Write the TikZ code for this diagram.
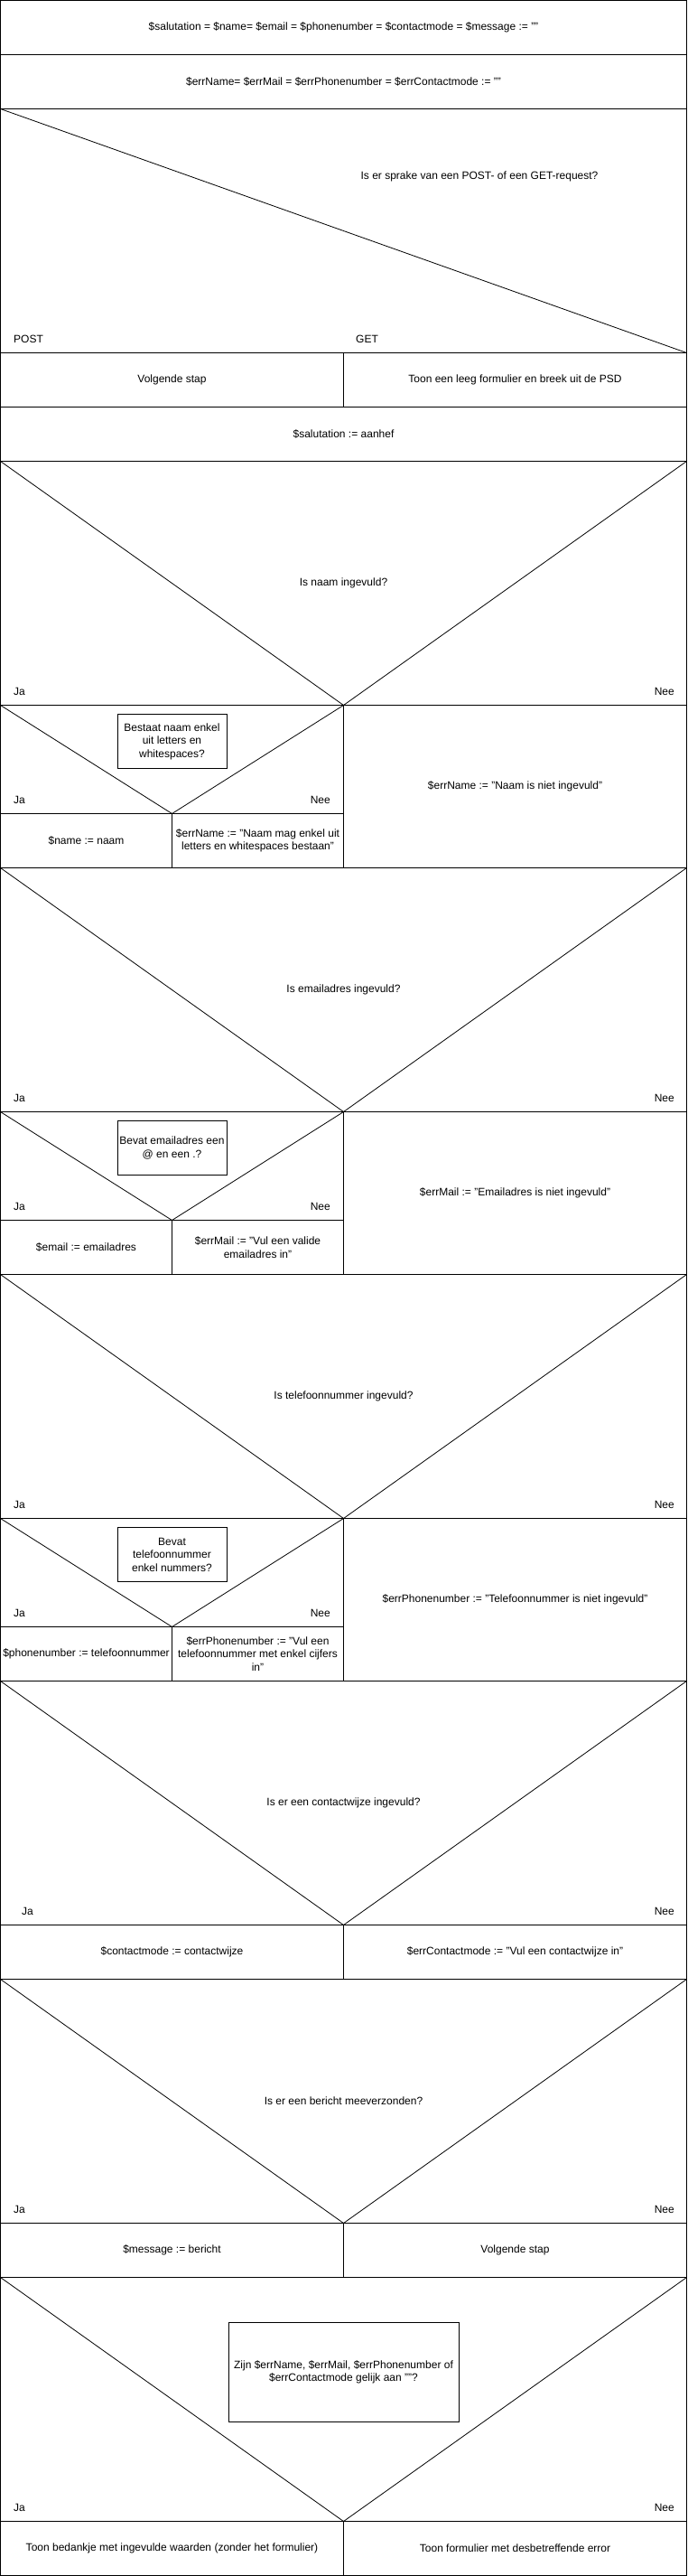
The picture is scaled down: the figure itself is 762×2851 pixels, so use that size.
\documentclass[tikz,border=0pt]{standalone}
\usepackage{fontspec}
\setmainfont{Liberation Sans}
\tikzset{
  frame/.style={draw=black, line width=1pt},
  diag/.style={draw=black, line width=0.8pt},
  txt/.style={font=\fontsize{12pt}{14.5pt}\selectfont, align=center, inner sep=0pt},
  jalbl/.style={txt, anchor=west},
  neelbl/.style={txt, anchor=east},
  qbox/.style={txt, draw=black, line width=1pt, minimum width=121pt, minimum height=60pt},
}
\begin{document}
\begin{tikzpicture}[x=1pt,y=-1pt]
\useasboundingbox (0,0) rectangle (762,2851);
% named coordinates of the frame
\coordinate (L) at (0.5,0);
\coordinate (R) at (760.5,0);
% outer frame
\draw[frame] (0.5,0.5) rectangle (760.5,2850.5);
% full-width horizontal lines
\foreach \yy in {60.5,120.5,390.5,450.5,510.5,780.5,960.5,1230.5,1410.5,1680.5,1860.5,2130.5,2190.5,2460.5,2520.5,2790.5}
  \draw[frame] (0.5,\yy) -- (760.5,\yy);
% half-width horizontal lines
\foreach \yy in {900.5,1350.5,1800.5}
  \draw[frame] (0.5,\yy) -- (380.5,\yy);
% vertical split lines (middle)
\foreach \ya/\yb in {390.5/450.5,780.5/960.5,1230.5/1410.5,1680.5/1860.5,2130.5/2190.5,2460.5/2520.5,2790.5/2850.5}
  \draw[frame] (380.5,\ya) -- (380.5,\yb);
% vertical split lines (quarter)
\foreach \ya/\yb in {900.5/960.5,1350.5/1410.5,1800.5/1860.5}
  \draw[frame] (190.5,\ya) -- (190.5,\yb);
% POST/GET diagonal
\draw[diag] (0.5,120.5) -- (760.5,390.5);
% big V decisions
\foreach \ya/\yb in {510.5/780.5,960.5/1230.5,1410.5/1680.5,1860.5/2130.5,2190.5/2460.5,2520.5/2790.5}
  \draw[diag] (0.5,\ya) -- (380.5,\yb) -- (760.5,\ya);
% nested V decisions
\foreach \ya/\yb in {780.5/900.5,1230.5/1350.5,1680.5/1800.5}
  \draw[diag] (0.5,\ya) -- (190.5,\yb) -- (380.5,\ya);

% ---- texts ----
\node[txt] (t1) at (380.5,30) {\$salutation = \$name= \$email = \$phonenumber = \$contactmode = \$message := ""};
\node[txt] (t2) at (380.5,90) {\$errName= \$errMail = \$errPhonenumber = \$errContactmode := ""};
\node[txt] (q0) at (531,195) {Is er sprake van een POST- of een GET-request?};
\node[jalbl] (post) at (15,375) {POST};
\node[jalbl] (get) at (394,375) {GET};
\node[txt] (s1) at (190.5,420) {Volgende stap};
\node[txt] (s2) at (570.5,420) {Toon een leeg formulier en breek uit de PSD};
\node[txt] (s3) at (380.5,480) {\$salutation := aanhef};

% naam
\node[txt] (q1) at (380.5,645) {Is naam ingevuld?};
\node[jalbl] (ja1) at (15,765) {Ja};
\node[neelbl] (nee1) at (747,765) {Nee};
\node[qbox] (q1b) at (190.5,820.5) {Bestaat naam enkel\\uit letters en\\whitespaces?};
\node[jalbl] (ja1b) at (15,885) {Ja};
\node[neelbl] (nee1b) at (366,885) {Nee};
\node[txt] (n1) at (95.5,930.5) {\$name := naam};
\node[txt] (n2) at (285.5,930.5) {\$errName := "Naam mag enkel uit\\letters en whitespaces bestaan"};
\node[txt] (n3) at (570.5,870.5) {\$errName := "Naam is niet ingevuld"};

% email
\node[txt] (q2) at (380.5,1095) {Is emailadres ingevuld?};
\node[jalbl] (ja2) at (15,1215) {Ja};
\node[neelbl] (nee2) at (747,1215) {Nee};
\node[qbox] (q2b) at (190.5,1270.5) {Bevat emailadres een\\@ en een .?};
\node[jalbl] (ja2b) at (15,1335) {Ja};
\node[neelbl] (nee2b) at (366,1335) {Nee};
\node[txt] (e1) at (95.5,1380.5) {\$email := emailadres};
\node[txt] (e2) at (285.5,1380.5) {\$errMail := "Vul een valide\\emailadres in"};
\node[txt] (e3) at (570.5,1320.5) {\$errMail := "Emailadres is niet ingevuld"};

% telefoon
\node[txt] (q3) at (380.5,1545) {Is telefoonnummer ingevuld?};
\node[jalbl] (ja3) at (15,1665) {Ja};
\node[neelbl] (nee3) at (747,1665) {Nee};
\node[qbox] (q3b) at (190.5,1720.5) {Bevat\\telefoonnummer\\enkel nummers?};
\node[jalbl] (ja3b) at (15,1785) {Ja};
\node[neelbl] (nee3b) at (366,1785) {Nee};
\node[txt] (p1) at (95.5,1830.5) {\$phonenumber := telefoonnummer};
\node[txt] (p2) at (285.5,1830.5) {\$errPhonenumber := "Vul een\\telefoonnummer met enkel cijfers\\in"};
\node[txt] (p3) at (570.5,1770.5) {\$errPhonenumber := "Telefoonnummer is niet ingevuld"};

% contactwijze
\node[txt] (q4) at (380.5,1995) {Is er een contactwijze ingevuld?};
\node[jalbl] (ja4) at (24,2115) {Ja};
\node[neelbl] (nee4) at (747,2115) {Nee};
\node[txt] (c1) at (190.5,2160.5) {\$contactmode := contactwijze};
\node[txt] (c2) at (570.5,2160.5) {\$errContactmode := "Vul een contactwijze in"};

% bericht
\node[txt] (q5) at (380.5,2325) {Is er een bericht meeverzonden?};
\node[jalbl] (ja5) at (15,2445) {Ja};
\node[neelbl] (nee5) at (747,2445) {Nee};
\node[txt] (m1) at (190.5,2490.5) {\$message := bericht};
\node[txt] (m2) at (570.5,2490.5) {Volgende stap};

% eind
\node[qbox, minimum width=255pt, minimum height=110pt] (q6) at (380.5,2625.5) {Zijn \$errName, \$errMail, \$errPhonenumber of\\\$errContactmode gelijk aan ""?};
\node[jalbl] (ja6) at (15,2775) {Ja};
\node[neelbl] (nee6) at (747,2775) {Nee};
\node[txt] (f1) at (190.5,2820.5) {Toon bedankje met ingevulde waarden (zonder het formulier)};
\node[txt] (f2) at (570.5,2820.5) {Toon formulier met desbetreffende error};
\end{tikzpicture}
\end{document}
